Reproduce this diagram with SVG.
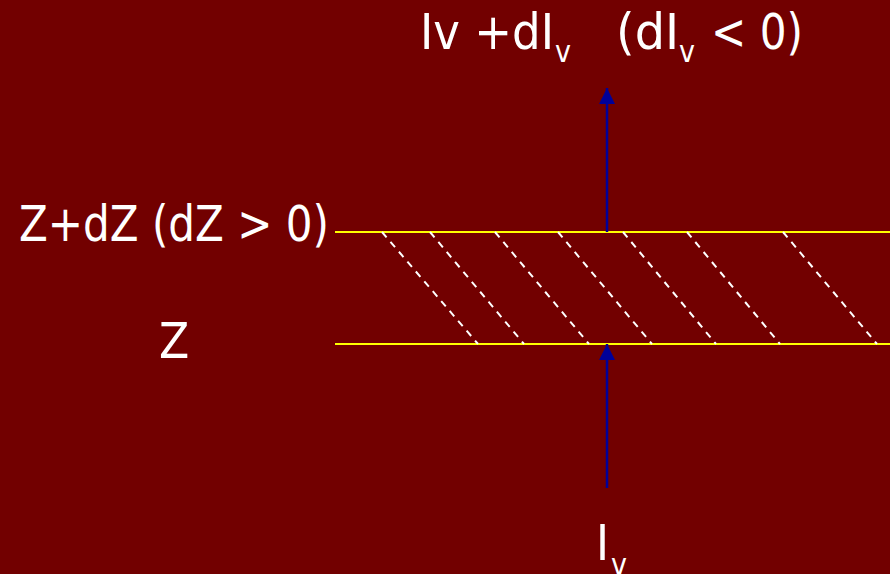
<svg xmlns="http://www.w3.org/2000/svg" width="890" height="574" viewBox="0 0 890 574">
<defs>
<style>
.t{fill:#fff;font-family:"DejaVu Sans Condensed","DejaVu Sans",sans-serif;font-size:49px}
.s{fill:#fff;font-family:"DejaVu Sans Condensed","DejaVu Sans",sans-serif;font-size:30px}
.y{stroke:#ffff00;stroke-width:2}
.h{stroke:#fff;stroke-width:2;stroke-dasharray:7 6}
.a{stroke:#000099;stroke-width:2.5}
</style>
<marker id="ah" viewBox="0 0 10 10" refX="10" refY="5" markerWidth="16" markerHeight="16" markerUnits="userSpaceOnUse" orient="auto">
<path d="M0,0 L10,5 L0,10 z" fill="#000099"/>
</marker>
</defs>
<rect width="890" height="574" fill="#720000"/>
<g id="connectors">
<line class="y" x1="335" y1="232" x2="890" y2="232"/>
<line class="y" x1="335" y1="344" x2="890" y2="344"/>
<line class="h" x1="382" y1="232" x2="478" y2="344"/>
<line class="h" x1="430" y1="232" x2="524" y2="344"/>
<line class="h" x1="495" y1="232" x2="589" y2="344"/>
<line class="h" x1="558" y1="232" x2="652" y2="344"/>
<line class="h" x1="623" y1="232" x2="716" y2="344"/>
<line class="h" x1="687" y1="232" x2="780" y2="344"/>
<line class="h" x1="783" y1="232" x2="877" y2="344"/>
<line class="a" x1="607" y1="232" x2="607" y2="88" marker-end="url(#ah)"/>
<line class="a" x1="607" y1="488" x2="607" y2="344" marker-end="url(#ah)"/>
</g>
<g id="top-label">
<text class="t" x="420" y="49" textLength="134" lengthAdjust="spacingAndGlyphs">Iv +dI</text>
<text class="s" x="555" y="62">v</text>
<text class="t" x="616" y="49" textLength="63" lengthAdjust="spacingAndGlyphs">(dI</text>
<text class="s" x="679" y="62">v</text>
<text class="t" x="711" y="49" textLength="92" lengthAdjust="spacingAndGlyphs">&lt; 0)</text>
</g>
<g id="z-dz-label">
<text class="t" x="19" y="241" textLength="310" lengthAdjust="spacingAndGlyphs">Z+dZ (dZ &gt; 0)</text>
</g>
<g id="z-label">
<text class="t" x="159" y="358">Z</text>
</g>
<g id="iv-label">
<text class="t" x="596" y="560">I</text>
<text class="s" x="611" y="575">v</text>
</g>
</svg>
